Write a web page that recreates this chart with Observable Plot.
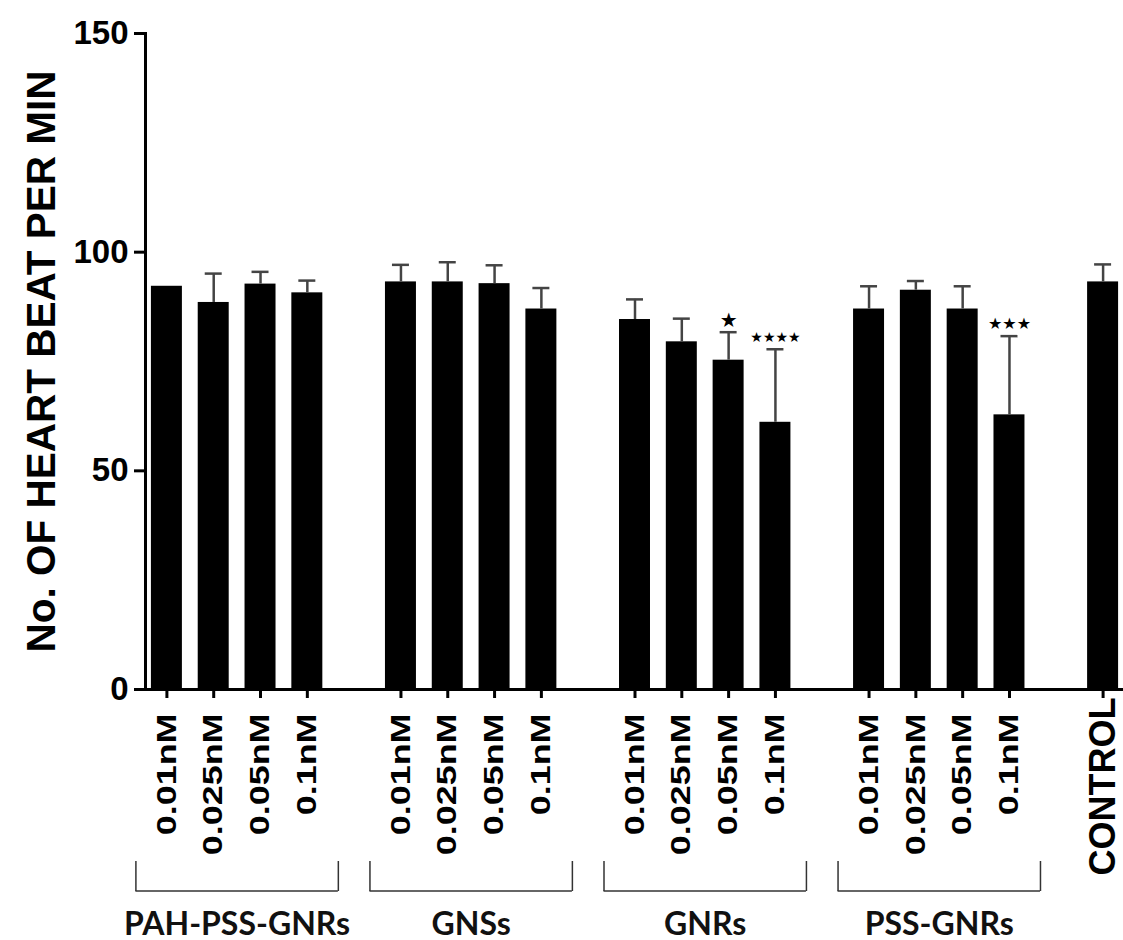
<!DOCTYPE html>
<html><head><meta charset="utf-8">
<script src="https://cdn.jsdelivr.net/npm/d3@7"></script>
<script src="https://cdn.jsdelivr.net/npm/@observablehq/plot@0.6"></script>
<style>body{margin:0;background:#fff}</style>
</head><body><div id="chart"></div>
<script>
const groups = ["PAH-PSS-GNRs", "GNSs", "GNRs", "PSS-GNRs"];
const concentrations = ["0.01nM", "0.025nM", "0.05nM", "0.1nM"];
const meanPAH = [92.2, 88.5, 92.7, 90.7];
const errPAH = [0, 6.6, 2.8, 2.8];
const meanGNSs = [93.2, 93.2, 92.8, 87.0];
const errGNSs = [3.9, 4.5, 4.2, 4.8];
const meanGNRs = [84.6, 79.5, 75.3, 61.1];
const errGNRs = [4.6, 5.3, 6.4, 16.7];
const meanPSS = [87.0, 91.3, 87.0, 62.8];
const errPSS = [5.2, 2.1, 5.2, 18.0];
const sigPAH = ["", "", "", ""];
const sigGNSs = ["", "", "", ""];
const sigGNRs = ["", "", "*", "****"];
const sigPSS = ["", "", "", "***"];
const controlLabel = "CONTROL";
const controlMean = 93.2;
const controlErr = 4.0;
const yTicks = [0, 50, 100, 150];
const yTitle = "No. OF HEART BEAT PER MIN";

const means = [meanPAH, meanGNSs, meanGNRs, meanPSS];
const errs = [errPAH, errGNSs, errGNRs, errPSS];
const sigs = [sigPAH, sigGNSs, sigGNRs, sigPSS];

const slots = [];
const rows = [];
groups.forEach((g, gi) => {
  concentrations.forEach((c, ci) => {
    const slot = g + " " + c;
    slots.push(slot);
    rows.push({slot, group: g, conc: c, mean: means[gi][ci], err: errs[gi][ci], sig: sigs[gi][ci]});
  });
  slots.push("gap" + gi);
});
slots.push(controlLabel);
const control = {slot: controlLabel, conc: controlLabel, mean: controlMean, err: controlErr, sig: ""};
const all = [...rows, control];
const withErr = all.filter(d => d.err > 0);
const groupRows = groups.map(g => ({group: g, first: g + " " + concentrations[0], last: g + " " + concentrations[concentrations.length - 1]}));

const W = 1123, H = 940;
const xRange = [143, 1126];
const step = (xRange[1] - xRange[0]) / slots.length;
const bandHalf = step * (1 - 0.338) / 2;
const bracketReach = 31;
const ink = "#000";
const errInk = "#444";
const bracketInk = "#333";

const chart = Plot.plot({
  width: W, height: H,
  marginLeft: 145, marginRight: 0, marginTop: 33, marginBottom: 251,
  style: {fontFamily: "'Liberation Sans', Arial, sans-serif", background: "#fff", color: ink},
  x: {type: "band", domain: slots, range: xRange, paddingInner: 0.338, paddingOuter: 0.169, round: false, axis: null},
  y: {domain: [0, 150]},
  marks: [
    Plot.barY(all, {x: "slot", y: "mean", fill: ink}),
    Plot.ruleX(withErr, {x: "slot", y1: "mean", y2: d => d.mean + d.err, stroke: errInk, strokeWidth: 2.5}),
    Plot.tickY(withErr, {x: "slot", y: d => d.mean + d.err, stroke: errInk, strokeWidth: 2.5, insetLeft: 7, insetRight: 7}),
    Plot.text(rows.filter(d => d.sig), {x: "slot", y: d => d.mean + d.err, text: d => d.sig.replace(/\*/g, "\u2605"), dy: -12, lineAnchor: "middle", fontSize: d => 22 - 2 * d.sig.length, fontFamily: "DejaVu Sans", fill: ink, style: {letterSpacing: "-1px"}}),
    Plot.ruleY([0], {stroke: ink, strokeWidth: 3}),
    Plot.frame({anchor: "left", stroke: ink, strokeWidth: 3}),
    Plot.axisY({ticks: yTicks, tickSize: 11, tickPadding: 6, fontSize: 33, fontWeight: "bold", stroke: ink, strokeWidth: 3, label: null, anchor: "left"}),
    Plot.ruleX(all, {x: "slot", y1: 0, y2: 0, insetBottom: -9, stroke: ink, strokeWidth: 3}),
    Plot.text(rows, {x: "slot", frameAnchor: "bottom", text: "conc", rotate: -90, textAnchor: "end", lineAnchor: "middle", dy: 24, fontSize: 27, fontWeight: "bold", fill: ink}),
    Plot.text([control], {x: "slot", frameAnchor: "bottom", text: "conc", rotate: -90, textAnchor: "end", lineAnchor: "middle", dy: 8, fontSize: 36, fontWeight: "bold", fill: ink}),
    Plot.ruleX(groupRows, {x: "first", y1: 0, y2: 0, insetTop: 172, insetBottom: -202, dx: -bracketReach, stroke: bracketInk, strokeWidth: 1.5}),
    Plot.ruleX(groupRows, {x: "last", y1: 0, y2: 0, insetTop: 172, insetBottom: -202, dx: bracketReach, stroke: bracketInk, strokeWidth: 1.5}),
    Plot.ruleY(groupRows, {x1: "first", x2: "last", y: 0, dy: 201.5, insetLeft: bandHalf - bracketReach, insetRight: bandHalf - bracketReach, stroke: bracketInk, strokeWidth: 1.5}),
    Plot.text(groupRows, {x: "first", frameAnchor: "bottom", text: "group", dx: 1.5 * step, dy: 245, lineAnchor: "bottom", fontFamily: "Lato", fontWeight: "bold", fontSize: 32, fill: "#111"}),
    Plot.text([yTitle], {frameAnchor: "left", rotate: -90, dx: -103, textAnchor: "middle", lineAnchor: "middle", fontSize: 40.5, fontWeight: "bold", fill: ink})
  ]
});
document.getElementById("chart").appendChild(chart);
d3.select(chart).selectAll("text").each(function() {
  const t = this.getAttribute("transform") || "";
  if (concentrations.includes(this.textContent) && t.includes("rotate")) {
    this.setAttribute("transform", t + " scale(1.33,1)");
  }
});
</script>
</body></html>
